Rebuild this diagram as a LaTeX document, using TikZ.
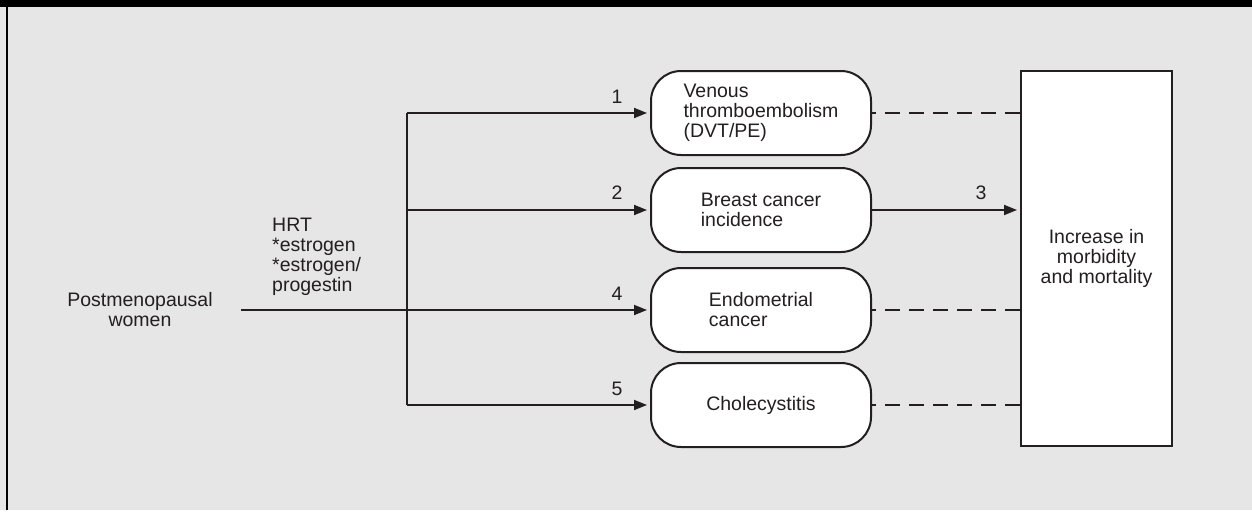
\documentclass[tikz,border=0pt]{standalone}
\usepackage{fontspec}
\setmainfont{Liberation Sans}
\usetikzlibrary{arrows.meta}
\definecolor{panel}{RGB}{230,230,230}
\definecolor{ink}{RGB}{35,31,32}

\begin{document}
\begin{tikzpicture}[
    x=1pt, y=-1pt,
    every node/.style={font=\fontsize{19.5}{20}\selectfont, text=ink, inner sep=0pt},
    outcome/.style={draw=ink, line width=2pt, fill=white, rounded corners=30pt,
                    minimum width=220pt, minimum height=84pt, align=left},
    result/.style={draw=ink, line width=2pt, fill=white,
                   minimum width=151pt, minimum height=375pt, align=center},
    link/.style={draw=ink, line width=1.8pt, shorten >=3pt,
                 -{Triangle[length=13pt,width=10pt]}},
    nolink/.style={draw=ink, line width=1.8pt, dash pattern=on 15pt off 9pt, dash phase=11pt}
]
  % Grey panel with the black top band and left rule.
  \fill[panel] (0,0) rectangle (1252,510);
  \fill[black] (0,0) rectangle (1252,7);
  \draw[black, line width=2pt] (7,7) -- (7,510);
  \useasboundingbox (0,0) rectangle (1252,510);

  % Outcomes and the end box.
  \node[outcome] (vte) at (761,113) {Venous\\thromboembolism\\(DVT/PE)};
  \node[outcome] (breast) at (761,210) {Breast cancer\\incidence};
  \node[outcome] (endo) at (761,310) {Endometrial\\cancer};
  \node[outcome] (chol) at (761,405) {Cholecystitis};
  \node[result] (big) at (1096.5,258.5) {Increase in\\morbidity\\and mortality};

  \node[align=center] (women) at (140,310) {Postmenopausal\\women};
  \node[align=left, anchor=west] (hrt) at (272,257) {HRT\\*estrogen\\*estrogen/\\progestin};

  % Branching from the treatment line.
  \coordinate (fork) at (407,0);
  \draw[ink, line width=1.8pt] (fork |- vte.west) -- (fork |- chol.west);
  \foreach \b in {vte,breast,chol}
    \draw[link] (fork |- \b.west) -- (\b.west);
  \draw[link, shorten <=28pt] (women.east) -- (endo.west);
  \draw[link] (breast.east) -- (big.west |- breast.east);
  \foreach \b in {vte,endo,chol}
    \draw[nolink] (\b.east) -- (big.west |- \b.east);

  % Link numbers.
  \node (n1) at (617,97) {1};
  \node (n2) at (617,193) {2};
  \node (n3) at (981,193) {3};
  \node (n4) at (617,294) {4};
  \node (n5) at (617,389) {5};
\end{tikzpicture}
\end{document}
